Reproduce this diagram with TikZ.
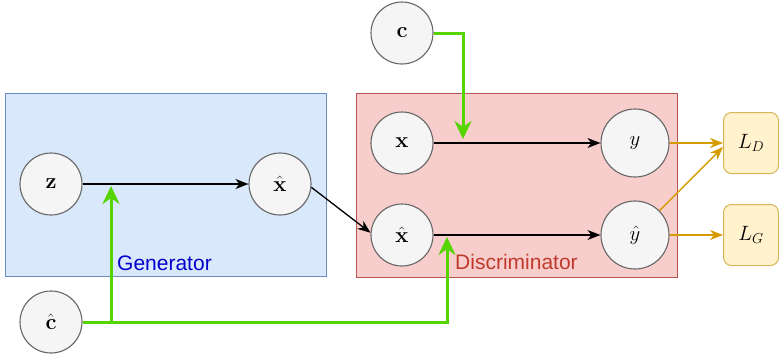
\documentclass[tikz,border=0pt]{standalone}
\usepackage{fontspec}
\newfontfamily\labelfont{Liberation Sans}
\usetikzlibrary{arrows.meta}

\definecolor{genfill}{HTML}{DAE8FC}
\definecolor{genline}{HTML}{6C8EBF}
\definecolor{disfill}{HTML}{F8CECC}
\definecolor{disline}{HTML}{B85450}
\definecolor{nodefill}{HTML}{F5F5F5}
\definecolor{nodeline}{HTML}{666666}
\definecolor{condgreen}{HTML}{55D400}
\definecolor{lossline}{HTML}{D79B00}
\definecolor{lossfill}{HTML}{FFF2CC}
\definecolor{lossedge}{HTML}{D6B656}
\definecolor{gentext}{HTML}{0000CC}
\definecolor{distext}{HTML}{C0392B}

\newcommand{\symbolsize}{\fontsize{22}{26}\selectfont}
\newcommand{\vecsym}[1]{\textbf{#1}}

\tikzset{
  var/.style={circle, draw=nodeline, fill=nodefill, line width=1.1pt,
    minimum size=62pt, inner sep=0pt, font=\symbolsize},
  outvar/.style={var, minimum size=68pt},
  loss/.style={rectangle, rounded corners=8pt, draw=lossedge, fill=lossfill,
    line width=1pt, minimum width=55pt, minimum height=61pt, inner sep=0pt,
    font=\symbolsize},
  flow/.style={line width=1.3pt, -{Stealth[length=13pt, width=10pt, inset=4pt]}},
  cond/.style={condgreen, line width=3pt, -{Stealth[length=18pt, width=17pt, inset=6pt]}},
  lossflow/.style={lossline, line width=1.4pt, -{Stealth[length=13pt, width=10pt, inset=4pt]}},
  blocklabel/.style={font=\labelfont\fontsize{21}{24}\selectfont, anchor=west, inner sep=0pt},
}

\begin{document}
\begin{tikzpicture}[x=1pt, y=-1pt]
  \useasboundingbox (0,0) rectangle (779,357);

  % network blocks
  \node[draw=genline, fill=genfill, line width=1pt, minimum width=321pt, minimum height=183pt,
        inner sep=0pt] (gen) at (165.5,184.5) {};
  \node[draw=disline, fill=disfill, line width=1pt, minimum width=321pt, minimum height=184pt,
        inner sep=0pt] (dis) at (516.5,185) {};
  \node[blocklabel, text=gentext] (genlabel) at (117,263) {Generator};
  \node[blocklabel, text=distext] (dislabel) at (455,262) {Discriminator};

  % variables
  \node[var] (z)  at (51,184)  {$\vecsym{z}$};
  \node[var] (xg) at (280,184) {$\hat{\vecsym{x}}$};
  \node[var] (c)  at (402,33)  {$\vecsym{c}$};
  \node[var] (x)  at (402,143) {$\vecsym{x}$};
  \node[var] (xd) at (402,235) {$\hat{\vecsym{x}}$};
  \node[var] (ch) at (51,322)  {$\hat{\vecsym{c}}$};
  \node[outvar] (y)  at (635,143) {$y$};
  \node[outvar] (yh) at (635,235) {$\hat{y}$};

  % losses
  \node[loss] (LD) at (751,143) {$L_D$};
  \node[loss] (LG) at (751,235) {$L_G$};

  % data flow
  \draw[flow] (z) -- (xg);
  \draw[flow] (xg.-6) -- (xd.176);
  \draw[flow] (x) -- (y);
  \draw[flow] (xd) -- (yh);

  % condition inputs
  \coordinate (gjoin) at (111,186);
  \coordinate (djoin) at (447,237);
  \coordinate (xjoin) at (463,139);
  \draw[cond] (ch.east) -| (gjoin);
  \draw[cond] (ch.east) -| (djoin);
  \draw[cond] (c.east) -| (xjoin);

  % losses
  \draw[lossflow] (y) -- (LD);
  \draw[lossflow] (yh.45) -- (LD.west |- 0,147);
  \draw[lossflow] (yh) -- (LG);
\end{tikzpicture}
\end{document}
